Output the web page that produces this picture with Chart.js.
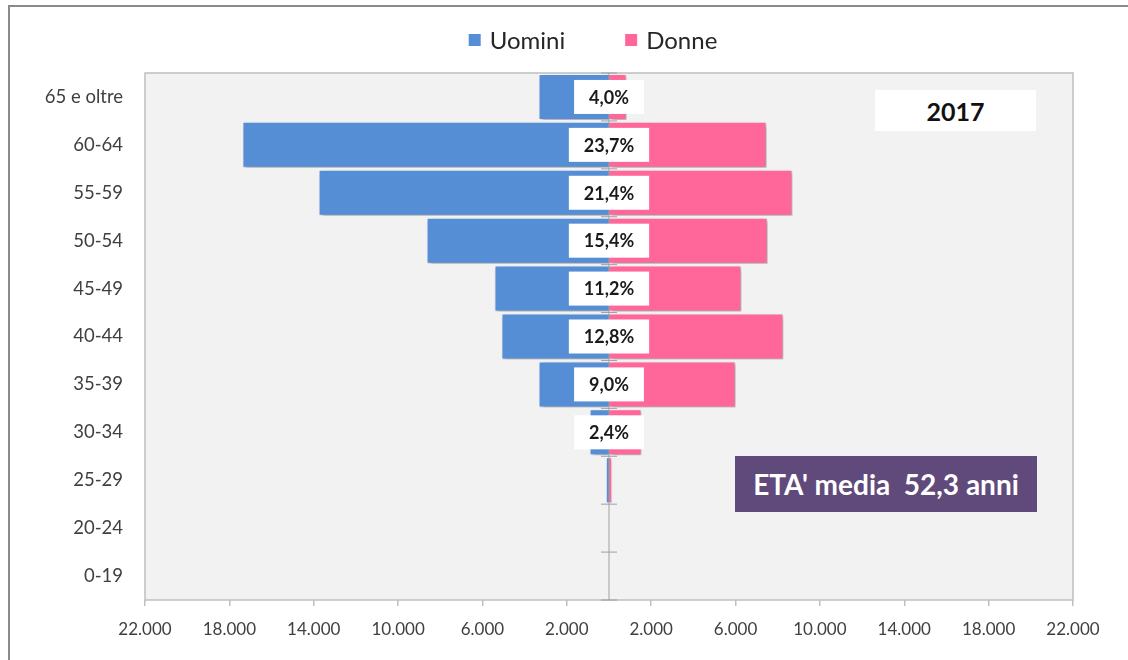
<!DOCTYPE html>
<html lang="it">
<head>
<meta charset="utf-8">
<title>Piramide età 2017</title>
<script src="https://cdn.jsdelivr.net/npm/chart.js@4.4.1/dist/chart.umd.min.js"></script>
<style>
    html, body { margin: 0; padding: 0; background: #fff; overflow: hidden; }
    #wrap { position: relative; width: 1128px; height: 660px; }
    #frame {
        position: absolute; left: 8px; top: 5px; width: 1200px; height: 700px;
        border: 2px solid #8a8a8a; box-sizing: border-box; pointer-events: none;
    }
    canvas { position: absolute; left: 0; top: 0; }
    .note {
        position: absolute; display: flex; align-items: center; justify-content: center;
        font-family: Lato, 'Noto Sans', sans-serif; font-weight: bold;
    }
    #anno  { left: 875px; top: 90px; width: 161px; height: 41px; background: #fff; color: #111; font-size: 25px; }
    #media { left: 735px; top: 456px; width: 302px; height: 56px; background: #604A7B; color: #fff; font-size: 28px; white-space: pre; }
</style>
</head>
<body>
<div id="wrap">
    <canvas id="pyramid" width="1128" height="660"></canvas>
    <div id="frame"></div>
    <div class="note" id="anno">2017</div>
    <div class="note" id="media">ETA' media  52,3 anni</div>
</div>
<script>
/* ---- data ---- */
const AGE_GROUPS = ['65 e oltre', '60-64', '55-59', '50-54', '45-49', '40-44', '35-39', '30-34', '25-29', '20-24', '0-19'];
const UOMINI = [-3340, -17380, -13770, -8650, -5430, -5100, -3340, -920, -150, 0, 0];
const DONNE  = [830, 7470, 8700, 7520, 6280, 8270, 6000, 1540, 150, 0, 0];
const QUOTA  = ['4,0%', '23,7%', '21,4%', '15,4%', '11,2%', '12,8%', '9,0%', '2,4%', '', '', ''];

const X_MIN = -22000;
const X_MAX = 22000;
const X_STEP = 4000;

const FONT = "Lato, 'Noto Sans', sans-serif";

// 22000 -> "22.000"
function fmt(v) {
    return String(Math.abs(v)).replace(/\B(?=(\d{3})+(?!\d))/g, '.');
}

/* plot background + frame */
const plotBox = {
    id: 'plotBox',
    beforeDraw(chart) {
        const { ctx, chartArea: a } = chart;
        ctx.save();
        ctx.fillStyle = '#f2f2f2';
        ctx.fillRect(a.left, a.top, a.right - a.left, a.bottom - a.top);
        ctx.restore();
    },
    beforeDatasetsDraw(chart) {
        const { ctx, chartArea: a } = chart;
        ctx.save();
        ctx.strokeStyle = '#bfbfbf';
        ctx.lineWidth = 1.5;
        ctx.strokeRect(a.left, a.top, a.right - a.left, a.bottom - a.top);
        ctx.restore();
    }
};

/* soft shadow under the bars */
const barShadow = {
    id: 'barShadow',
    beforeDatasetDraw(chart) {
        const ctx = chart.ctx;
        ctx.save();
        ctx.shadowColor = 'rgba(0,0,0,0.35)';
        ctx.shadowBlur = 4;
        ctx.shadowOffsetX = 2;
        ctx.shadowOffsetY = 2;
    },
    afterDatasetDraw(chart) {
        chart.ctx.restore();
    }
};

/* vertical axis at zero, then the white percentage boxes */
const centreLabels = {
    id: 'centreLabels',
    afterDatasetsDraw(chart) {
        const { ctx, chartArea: a } = chart;
        const xs = chart.scales.x, ys = chart.scales.y;
        const x0 = xs.getPixelForValue(0);
        const n = AGE_GROUPS.length;

        ctx.save();
        ctx.strokeStyle = '#a0a0a0';
        ctx.lineWidth = 1;
        ctx.beginPath();
        ctx.moveTo(x0, a.top);
        ctx.lineTo(x0, a.bottom);
        for (let i = 0; i <= n; i++) {
            let y;
            if (i === 0) y = a.top;
            else if (i === n) y = a.bottom;
            else y = (ys.getPixelForValue(i - 1) + ys.getPixelForValue(i)) / 2;
            ctx.moveTo(x0 - 8, y);
            ctx.lineTo(x0 + 8, y);
        }
        ctx.stroke();

        ctx.font = 'bold 18px ' + FONT;
        ctx.textAlign = 'center';
        ctx.textBaseline = 'middle';
        QUOTA.forEach((txt, i) => {
            if (!txt) return;
            const y = ys.getPixelForValue(i);
            const w = ctx.measureText(txt).width + 30;
            const h = 34;
            ctx.fillStyle = '#ffffff';
            ctx.fillRect(x0 - w / 2, y - h / 2, w, h);
            ctx.fillStyle = '#1a1a1a';
            ctx.fillText(txt, x0, y + 1);
        });
        ctx.restore();
    }
};

/* legend drawn by hand so it can sit where the original has it */
const topLegend = {
    id: 'topLegend',
    afterDraw(chart) {
        const ctx = chart.ctx;
        const cy = 40, box = 12, gap = 9, between = 60, centre = 593;
        ctx.save();
        ctx.font = '24px ' + FONT;
        ctx.textBaseline = 'middle';
        const items = chart.data.datasets.map(d => ({ text: d.label, color: d.backgroundColor, w: ctx.measureText(d.label).width }));
        const total = items.reduce((s, it) => s + box + gap + it.w, 0) + between * (items.length - 1);
        let x = centre - total / 2;
        items.forEach(it => {
            ctx.fillStyle = it.color;
            ctx.fillRect(x, cy - box / 2, box, box);
            ctx.fillStyle = '#262626';
            ctx.textAlign = 'left';
            ctx.fillText(it.text, x + box + gap, cy + 1);
            x += box + gap + it.w + between;
        });
        ctx.restore();
    }
};

new Chart(document.getElementById('pyramid').getContext('2d'), {
    type: 'bar',
    data: {
        labels: AGE_GROUPS,
        datasets: [
            {
                label: 'Uomini',
                data: UOMINI,
                backgroundColor: '#558ED5',
                borderColor: 'rgba(255,255,255,0.7)',
                borderWidth: 1,
                barPercentage: 0.96,
                categoryPercentage: 1
            },
            {
                label: 'Donne',
                data: DONNE,
                backgroundColor: '#FF6699',
                borderColor: 'rgba(255,255,255,0.7)',
                borderWidth: 1,
                barPercentage: 0.96,
                categoryPercentage: 1
            }
        ]
    },
    options: {
        indexAxis: 'y',
        responsive: false,
        animation: false,
        layout: { padding: { left: 0, right: 55, top: 73, bottom: 0 } },
        plugins: {
            legend: { display: false },
            tooltip: { enabled: false }
        },
        scales: {
            x: {
                stacked: true,
                min: X_MIN,
                max: X_MAX,
                border: { display: false },
                grid: { drawOnChartArea: false, drawTicks: true, tickLength: 6, color: '#bfbfbf', lineWidth: 1.5 },
                ticks: {
                    stepSize: X_STEP,
                    autoSkip: false,
                    maxRotation: 0,
                    padding: 13,
                    color: '#404040',
                    font: { family: FONT, size: 17 },
                    callback: v => fmt(v)
                },
                afterFit: s => { s.height = 60; }
            },
            y: {
                stacked: true,
                border: { display: false },
                grid: { display: false },
                ticks: {
                    padding: 14,
                    color: '#404040',
                    font: { family: FONT, size: 18.5 }
                },
                afterFit: s => { s.width = 145; }
            }
        }
    },
    plugins: [plotBox, barShadow, centreLabels, topLegend]
});
</script>
</body>
</html>
